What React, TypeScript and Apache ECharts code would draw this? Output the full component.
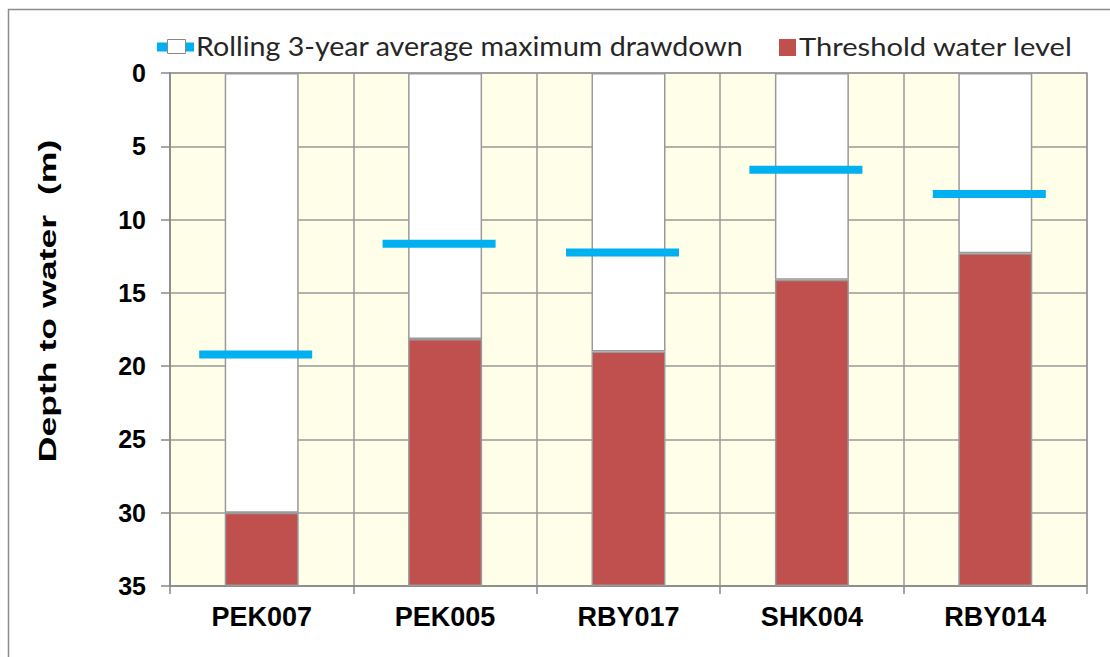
import React, { useEffect, useRef } from "react";
import * as echarts from "echarts";

// ---- data ----
const categories = ["PEK007", "PEK005", "RBY017", "SHK004", "RBY014"];
const thresholdWaterLevel = [30.0, 18.15, 19.0, 14.1, 12.3];
const rollingDrawdown = [19.2, 11.65, 12.25, 6.6, 8.25];
const axisMin = 0;
const axisMax = 35;
const axisInterval = 5;

const seriesNames = {
  drawdown: "Rolling 3-year average maximum drawdown",
  threshold: "Threshold water level",
};
const yTitle = "Depth to water  (m)";

const BLUE = "#00B0F0";
const RED = "#C0504D";
const GRID_LINE = "#9a9a9a";
const PLOT_BG = "#FFFFE9";

export default function App() {
  const ref = useRef<HTMLDivElement>(null);

  useEffect(() => {
    if (!ref.current) return;
    const chart = echarts.init(ref.current, undefined, { renderer: "svg" });

    const option: any = {
      animation: false,
      backgroundColor: "#ffffff",
      grid: {
        left: 170,
        right: 23,
        top: 73,
        bottom: 71,
        show: true,
        backgroundColor: PLOT_BG,
        borderColor: GRID_LINE,
        borderWidth: 1.5,
      },
      xAxis: {
        type: "category",
        data: categories,
        position: "bottom",
        axisLine: { onZero: false, lineStyle: { color: "#888", width: 1.5 } },
        axisTick: { show: true, length: 8, lineStyle: { color: "#888", width: 1.5 } },
        splitLine: { show: true, lineStyle: { color: GRID_LINE, width: 1.5 } },
        axisLabel: {
          color: "#000",
          fontFamily: "Liberation Sans, Arial, sans-serif",
          fontWeight: "bold",
          fontSize: 27,
          margin: 17,
        },
      },
      yAxis: {
        type: "value",
        inverse: true,
        min: axisMin,
        max: axisMax,
        interval: axisInterval,
        axisLine: { show: true, lineStyle: { color: "#888", width: 1.5 } },
        axisTick: { show: true, length: 9, lineStyle: { color: "#888", width: 1.5 } },
        splitLine: { show: true, lineStyle: { color: GRID_LINE, width: 1.5 } },
        axisLabel: {
          color: "#000",
          fontFamily: "Liberation Sans, Arial, sans-serif",
          fontWeight: "bold",
          fontSize: 25,
          margin: 24,
        },
      },
      series: [
        {
          name: "depth",
          type: "bar",
          stack: "col",
          barWidth: 74,
          data: thresholdWaterLevel,
          itemStyle: { color: "#ffffff", borderColor: "#999", borderWidth: 1.5 },
          z: 2,
        },
        {
          name: seriesNames.threshold,
          type: "bar",
          stack: "col",
          barWidth: 74,
          data: thresholdWaterLevel.map((v) => axisMax - v),
          itemStyle: { color: RED, borderColor: "#999", borderWidth: 1.5 },
          z: 2,
        },
        {
          name: seriesNames.drawdown,
          type: "scatter",
          data: rollingDrawdown,
          symbol: "rect",
          symbolSize: [113, 8],
          symbolOffset: [-6, 0],
          itemStyle: { color: BLUE, opacity: 1 },
          z: 5,
        },
      ],
      graphic: [
        {
          type: "rect",
          shape: { x: 8.5, y: 9.5, width: 1300, height: 800 },
          style: { fill: "none", stroke: "#8c8c8c", lineWidth: 1.5 },
          silent: true,
        },
        {
          type: "rect",
          shape: { x: 157, y: 42.5, width: 37, height: 9 },
          style: { fill: BLUE },
        },
        {
          type: "rect",
          shape: { x: 167.5, y: 39.5, width: 18, height: 14 },
          style: { fill: "#ffffff", stroke: "#888", lineWidth: 1 },
        },
        {
          type: "text",
          x: 196,
          y: 46,
          scaleX: 1.1,
          style: {
            text: seriesNames.drawdown,
            fontFamily: "Lato, 'Open Sans', sans-serif",
            fontSize: 26,
            fill: "#262626",
            verticalAlign: "middle",
          },
        },
        {
          type: "rect",
          shape: { x: 779, y: 39, width: 17, height: 17 },
          style: { fill: RED },
        },
        {
          type: "text",
          x: 799,
          y: 46,
          scaleX: 1.12,
          style: {
            text: seriesNames.threshold,
            fontFamily: "Lato, 'Open Sans', sans-serif",
            fontSize: 26,
            fill: "#262626",
            verticalAlign: "middle",
          },
        },
        {
          type: "text",
          x: 48,
          y: 301,
          rotation: Math.PI / 2,
          scaleX: 1.55,
          style: {
            text: yTitle,
            fontFamily: "Liberation Sans, Arial, sans-serif",
            fontWeight: "bold",
            fontSize: 23,
            fill: "#000",
            align: "center",
            verticalAlign: "middle",
          },
        },
      ],
    };

    chart.setOption(option);
    return () => chart.dispose();
  }, []);

  return (
    <div
      ref={ref}
      style={{ position: "absolute", left: 0, top: 0, width: 1110, height: 657 }}
    />
  );
}
